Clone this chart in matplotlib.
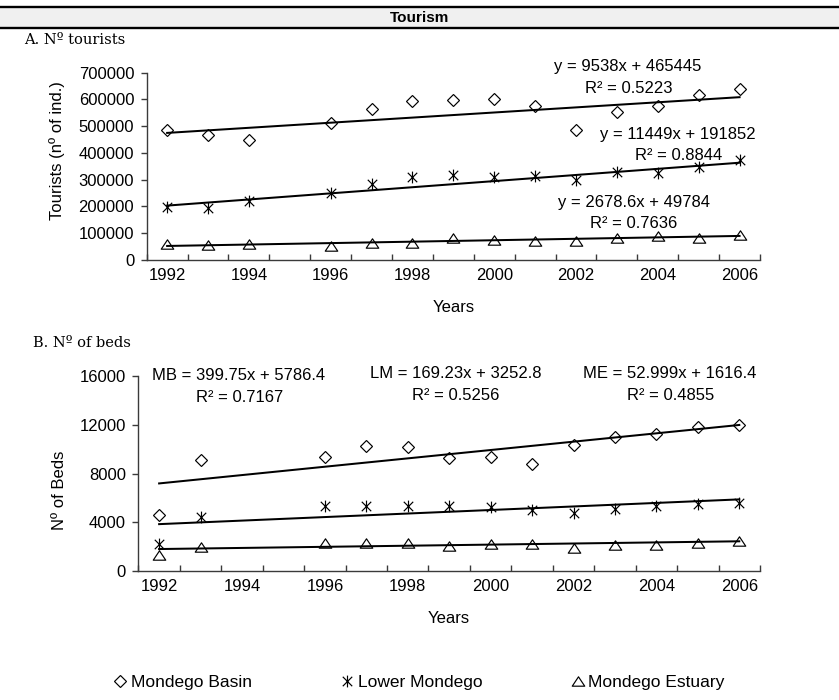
import numpy as np
import matplotlib
matplotlib.use("Agg")
import matplotlib.pyplot as plt
from matplotlib.lines import Line2D
from matplotlib.patches import Rectangle
from matplotlib.path import Path

# ---------------- data ----------------
series_names = ["Mondego Basin", "Lower Mondego", "Mondego Estuary"]

# A. number of tourists (1995 not available)
years_tourists = [1992, 1993, 1994, 1996, 1997, 1998, 1999, 2000, 2001, 2002, 2003, 2004, 2005, 2006]
tourists_basin = [484000, 467000, 447000, 512000, 563000, 593000, 598000, 601000, 575000, 486000, 554000, 577000, 618000, 638000]
tourists_lower = [199000, 193000, 221000, 249000, 283000, 311000, 317000, 311000, 314000, 299000, 328000, 324000, 348000, 375000]
tourists_estuary = [61000, 56000, 59000, 51000, 62000, 62000, 82000, 75000, 71000, 70000, 82000, 91000, 83000, 93000]

# linear trends reported for the tourist series (x = year index, 1992 -> 1)
tourist_slopes = [9538, 11449, 2678.6]
tourist_intercepts = [465445, 191852, 49784]
tourist_r2 = [0.5223, 0.8844, 0.7636]

# B. number of beds (1994 and 1995 not available)
years_beds = [1992, 1993, 1996, 1997, 1998, 1999, 2000, 2001, 2002, 2003, 2004, 2005, 2006]
beds_basin = [4600, 9100, 9330, 10280, 10170, 9270, 9380, 8810, 10310, 10970, 11240, 11840, 11980]
beds_lower = [2220, 4460, 5360, 5360, 5360, 5360, 5280, 5000, 4730, 5090, 5330, 5500, 5610]
beds_estuary = [1310, 2000, 2270, 2270, 2320, 2050, 2210, 2190, 1860, 2130, 2130, 2270, 2490]

# linear trends reported for the bed series
bed_prefixes = ["MB", "LM", "ME"]
bed_slopes = [399.75, 169.23, 52.999]
bed_intercepts = [5786.4, 3252.8, 1616.4]
bed_r2 = [0.7167, 0.5256, 0.4855]
bed_index_range = (3.5, 15.5)   # regression index at 1992 and at 2006

tourist_ticks = list(range(0, 700001, 100000))
bed_ticks = list(range(0, 16001, 4000))
year_ticks = list(range(1992, 2007, 2))

# ---------------- figure ----------------
W, H = 839, 700
fig = plt.figure(figsize=(W / 100, H / 100), dpi=100)
plt.rcParams["font.family"] = ["Liberation Sans", "DejaVu Sans"]

def fx(px):
    return px / W

def fy(py):
    return 1 - py / H

# marker shapes
tri_path = Path([(-1, -0.75), (1, -0.75), (0, 0.75), (-1, -0.75)],
                [Path.MOVETO, Path.LINETO, Path.LINETO, Path.CLOSEPOLY])
star_path = Path([(0, -1), (0, 1), (-0.8, -0.8), (0.8, 0.8), (-0.8, 0.8), (0.8, -0.8)],
                 [Path.MOVETO, Path.LINETO, Path.MOVETO, Path.LINETO, Path.MOVETO, Path.LINETO])
marker_styles = [
    dict(marker="D", ms=6.0),
    dict(marker=star_path, ms=8.5),
    dict(marker=tri_path, ms=9.0),
]
AX_COLOR = "#3a3a3a"

# header band
fig.add_artist(Rectangle((0, fy(28.3)), 1, fy(7.8) - fy(28.3), transform=fig.transFigure,
                         facecolor="#f0f0f0", edgecolor="none", zorder=0))
for yy in (7.3, 28.4):
    fig.add_artist(Line2D([0, 1], [fy(yy), fy(yy)], transform=fig.transFigure,
                          color="black", lw=1.7))
fig.text(0.5, fy(18.3), "Tourism", ha="center", va="center", fontsize=11, fontweight="bold")

serif = ["DejaVu Serif", "Liberation Serif"]
fig.text(fx(24), fy(40), "A. Nº tourists", ha="left", va="center", fontsize=10.5, family=serif)
fig.text(fx(33), fy(343), "B. Nº of beds", ha="left", va="center", fontsize=10.5, family=serif)


def style_axes(ax, ymax, yticks):
    ax.set_xlim(1991.5, 2006.5)
    ax.set_ylim(0, ymax)
    for s in ("top", "right"):
        ax.spines[s].set_visible(False)
    for s in ("left", "bottom"):
        ax.spines[s].set_color(AX_COLOR)
        ax.spines[s].set_linewidth(1.0)
    ax.set_xticks(year_ticks)
    ax.set_xticklabels([str(y) for y in year_ticks])
    ax.set_xticks(np.arange(1991.5, 2007, 1.0), minor=True)
    ax.tick_params(axis="x", which="major", length=0, pad=6, labelsize=12)
    ax.tick_params(axis="x", which="minor", direction="in", length=4, width=1, color=AX_COLOR)
    ax.set_yticks(yticks)
    ax.set_yticklabels([str(v) for v in yticks])
    ax.tick_params(axis="y", which="major", direction="out", length=4, width=1,
                   color=AX_COLOR, pad=5, labelsize=12)
    ax.tick_params(axis="y", which="minor", left=False)
    ax.set_xlabel("Years", fontsize=12)
    ax.patch.set_visible(False)


# ---------------- panel A ----------------
axA = fig.add_axes([fx(146.7), fy(260), fx(760) - fx(146.7), fy(72.7) - fy(260)])
style_axes(axA, 700000, tourist_ticks)
axA.xaxis.set_label_coords(0.5, -0.215)

trend_years = np.array([1992, 2006])
for vals, slope, icpt, st in zip([tourists_basin, tourists_lower, tourists_estuary],
                                 tourist_slopes, tourist_intercepts, marker_styles):
    idx = trend_years - 1991
    axA.plot(trend_years, slope * idx + icpt, color="black", lw=1.45, zorder=2)
    axA.plot(years_tourists, vals, ls="none", mfc="none", mec="black", mew=0.85,
             zorder=3, clip_on=False, **st)

eqA_pos = [((628, 66.7), (629, 88.3)), ((678, 135), (678.5, 155)), ((634, 202.3), (634, 223.3))]
for slope, icpt, r2, (p1, p2) in zip(tourist_slopes, tourist_intercepts, tourist_r2, eqA_pos):
    fig.text(fx(p1[0]), fy(p1[1]), f"y = {slope:g}x + {icpt:g}", ha="center", va="center", fontsize=12)
    fig.text(fx(p2[0]), fy(p2[1]), f"R² = {r2:g}", ha="center", va="center", fontsize=12)

fig.text(fx(57), fy(151), "Tourists (nº of ind.)", rotation=90, ha="center", va="center", fontsize=12)

# ---------------- panel B ----------------
axB = fig.add_axes([fx(138.4), fy(571), fx(760) - fx(138.4), fy(376) - fy(571)])
style_axes(axB, 16000, bed_ticks)
axB.xaxis.set_label_coords(0.5, -0.205)

t0, t1 = bed_index_range
for vals, slope, icpt, st in zip([beds_basin, beds_lower, beds_estuary],
                                 bed_slopes, bed_intercepts, marker_styles):
    idx = t0 + (trend_years - 1992) * (t1 - t0) / (2006 - 1992)
    axB.plot(trend_years, slope * idx + icpt, color="black", lw=1.45, zorder=2)
    axB.plot(years_beds, vals, ls="none", mfc="none", mec="black", mew=0.85,
             zorder=3, clip_on=False, **st)

eqB_pos = [((239, 376), (239.5, 397.3)), ((456, 374), (456, 396)), ((670, 373.3), (670.5, 395))]
for pre, slope, icpt, r2, (p1, p2) in zip(bed_prefixes, bed_slopes, bed_intercepts, bed_r2, eqB_pos):
    fig.text(fx(p1[0]), fy(p1[1]), f"{pre} = {slope:g}x + {icpt:g}", ha="center", va="center", fontsize=12)
    fig.text(fx(p2[0]), fy(p2[1]), f"R² = {r2:g}", ha="center", va="center", fontsize=12)

fig.text(fx(60), fy(490), "Nº of Beds", rotation=90, ha="center", va="center", fontsize=12)

# ---------------- legend ----------------
handles = [Line2D([], [], ls="none", mfc="none", mec="black", mew=0.85, **st) for st in marker_styles]
fig.legend(handles, series_names, loc="center", bbox_to_anchor=(fx(420), fy(682)),
           ncol=3, frameon=False, fontsize=12.5, handlelength=0.6, handletextpad=0.3,
           columnspacing=5.2, borderaxespad=0)

fig.savefig("out.png", dpi=100)
